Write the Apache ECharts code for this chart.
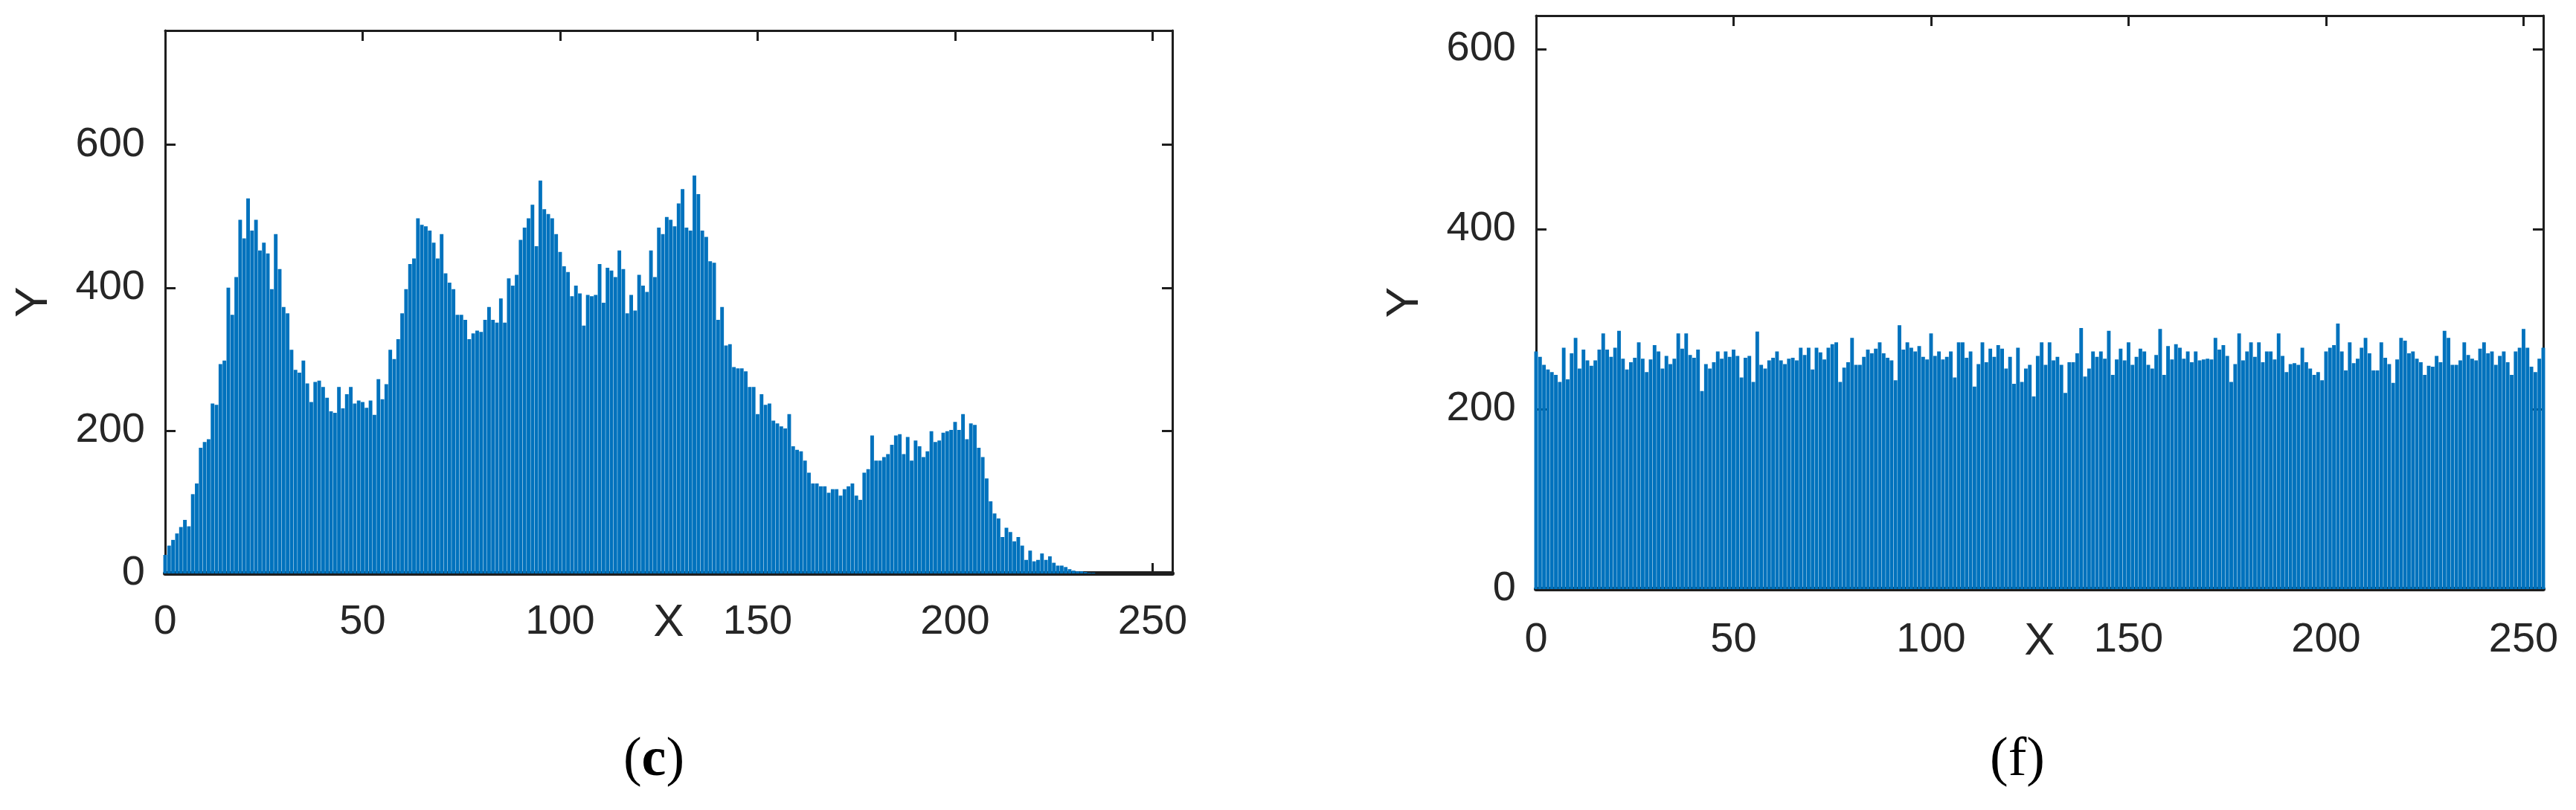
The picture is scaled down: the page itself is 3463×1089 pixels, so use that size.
<!DOCTYPE html>
<html>
<head>
<meta charset="utf-8">
<script src="https://cdn.jsdelivr.net/npm/echarts@6/dist/echarts.min.js"></script>
<style>
html,body{margin:0;padding:0;background:#fff;}
#chart{width:3463px;height:1089px;}
</style>
</head>
<body>
<div id="chart"></div>
<script>
// Histogram (c): pixel counts per grey level 0..255
const countsC = [
  26,39,47,56,65,75,66,111,126,176,184,188,238,236,293,298,
  400,362,415,495,469,525,480,495,452,463,448,398,475,426,373,364,
  313,285,281,298,266,240,268,270,261,246,227,225,261,231,251,261,
  238,242,240,232,242,222,272,244,265,313,300,328,364,398,433,441,
  497,488,486,480,463,441,475,420,407,398,362,362,355,328,336,340,
  338,355,373,355,351,385,351,413,403,418,467,484,497,516,458,550,
  510,503,497,475,450,430,422,388,403,392,347,390,388,390,433,379,
  428,424,415,452,426,364,390,368,418,403,394,452,415,484,475,499,
  495,486,518,538,484,480,557,531,480,471,437,435,355,373,319,321,
  289,287,287,283,261,261,223,251,236,238,214,210,206,203,223,178,
  173,171,158,141,126,126,122,122,113,118,118,109,118,122,126,109,
  103,141,146,193,158,158,163,167,180,193,195,167,191,158,186,178,
  163,171,199,184,186,197,199,201,212,201,223,188,210,208,176,163,
  133,101,84,77,51,64,58,45,51,39,19,32,17,19,28,19,
  24,15,11,11,9,6,4,3,3,2,1,1,0,0,0,0,
  0,0,0,0,0,0,0,0,0,0,0,0,0,0,0,0
];
// Histogram (f): pixel counts per grey level 0..255
const countsF = [
  264,258,249,244,241,238,230,268,233,262,279,245,266,254,248,254,
  266,284,266,258,268,287,256,244,252,257,274,256,241,255,271,264,
  245,259,250,256,284,267,284,260,257,266,220,250,245,252,264,256,
  264,258,266,259,235,257,259,230,286,249,245,254,257,264,254,250,
  256,257,254,268,260,268,244,268,263,255,268,272,274,230,246,252,
  279,249,249,258,266,262,267,274,262,257,254,232,293,266,274,268,
  264,270,258,255,284,259,264,255,258,264,235,274,274,257,264,225,
  250,274,252,267,258,271,267,245,258,228,268,230,245,249,214,259,
  274,249,274,254,258,249,218,252,252,262,290,236,245,264,258,264,
  256,287,238,255,267,254,274,249,258,267,264,249,245,260,289,238,
  270,255,272,268,256,264,252,264,254,255,256,255,279,266,271,259,
  230,250,284,254,264,274,258,274,252,264,264,255,284,259,241,250,
  251,249,268,252,245,238,241,232,264,268,271,295,264,243,274,251,
  256,268,279,262,243,243,274,257,250,229,255,279,276,262,264,256,
  252,238,248,247,259,252,287,279,249,249,254,274,260,256,254,267,
  274,262,264,249,259,264,252,238,264,268,289,268,247,241,256,268
];
const xTicks = [0, 50, 100, 150, 200, 250];
const yTicks = [0, 200, 400, 600];
const captions = ['c', 'f'];
const xName = 'X';
const yName = 'Y';

const TXT = '#262626';
const AX = '#1e1e1e';
const FONT = 'Liberation Sans';
const BAR = '#0072BD';

function pairs(arr) { return arr.map((v, i) => [i, v]); }

const grids = [
  {left: 222, top: 41, width: 1354, height: 730},
  {left: 2065, top: 21, width: 1354, height: 771}
];
const yMax = [760, 637];

const xAxes = [], yAxes = [], series = [];
grids.forEach((g, k) => {
  const xFmt = v => (xTicks.indexOf(v) >= 0 ? String(v) : '');
  const yFmt = v => (yTicks.indexOf(v) >= 0 ? String(v) : '');
  xAxes.push({
    type: 'value', gridIndex: k, position: 'bottom', min: 0, max: 255, interval: 50,
    name: xName, nameLocation: 'middle', nameGap: k === 0 ? 36 : 40, nameMoveOverlap: false,
    nameTextStyle: {fontFamily: FONT, fontSize: 62, color: TXT},
    axisLine: {show: true, onZero: false, lineStyle: {color: AX, width: 6}},
    axisTick: {show: true, inside: true, length: 14, lineStyle: {color: AX, width: 3}},
    axisLabel: {show: true, formatter: xFmt, showMaxLabel: false, margin: k === 0 ? 38 : 41,
      fontFamily: FONT, fontSize: 56, color: TXT},
    splitLine: {show: false}
  });
  xAxes.push({
    type: 'value', gridIndex: k, position: 'top', min: 0, max: 255, interval: 50,
    axisLine: {show: true, onZero: false, lineStyle: {color: AX, width: 3}},
    axisTick: {show: true, inside: true, length: 14, lineStyle: {color: AX, width: 3}},
    axisLabel: {show: false}, splitLine: {show: false}
  });
  yAxes.push({
    type: 'value', gridIndex: k, position: 'left', min: 0, max: yMax[k], interval: 200,
    name: yName, nameLocation: 'middle', nameGap: 145, nameRotate: 90, nameMoveOverlap: false,
    nameTextStyle: {fontFamily: FONT, fontSize: 62, color: TXT},
    axisLine: {show: true, onZero: false, lineStyle: {color: AX, width: 3}},
    axisTick: {show: true, inside: true, length: 14, lineStyle: {color: AX, width: 3}},
    axisLabel: {show: true, formatter: yFmt, showMaxLabel: false, margin: 27,
      fontFamily: FONT, fontSize: 56, color: TXT},
    splitLine: {show: false}
  });
  yAxes.push({
    type: 'value', gridIndex: k, position: 'right', min: 0, max: yMax[k], interval: 200,
    axisLine: {show: true, onZero: false, lineStyle: {color: AX, width: 3}},
    axisTick: {show: true, inside: true, length: 14, lineStyle: {color: AX, width: 3}},
    axisLabel: {show: false}, splitLine: {show: false}
  });
});

series.push({
  type: 'bar', xAxisIndex: 0, yAxisIndex: 0, data: pairs(countsC),
  barCategoryGap: '8%', itemStyle: {color: BAR}, silent: true, animation: false, z: 1
});
series.push({
  type: 'bar', xAxisIndex: 2, yAxisIndex: 2, data: pairs(countsF),
  barCategoryGap: '8%', itemStyle: {color: BAR}, silent: true, animation: false, z: 1
});

const chart = echarts.init(document.getElementById('chart'), null, {renderer: 'canvas'});
chart.setOption({
  backgroundColor: '#ffffff',
  animation: false,
  grid: grids,
  xAxis: xAxes,
  yAxis: yAxes,
  series: series,
  graphic: [
    {type: 'text', x: 879, y: 1023, style: {
      text: '({b|' + captions[0] + '})',
      font: '74px "Liberation Serif"', fill: '#000', align: 'center', verticalAlign: 'middle',
      rich: {b: {fontFamily: 'Liberation Serif', fontWeight: 'bold', fontSize: 74, fill: '#000'}}
    }},
    {type: 'text', x: 2712, y: 1023, style: {
      text: '(' + captions[1] + ')',
      font: '74px "Liberation Serif"', fill: '#000', align: 'center', verticalAlign: 'middle'
    }}
  ]
});
</script>
</body>
</html>
